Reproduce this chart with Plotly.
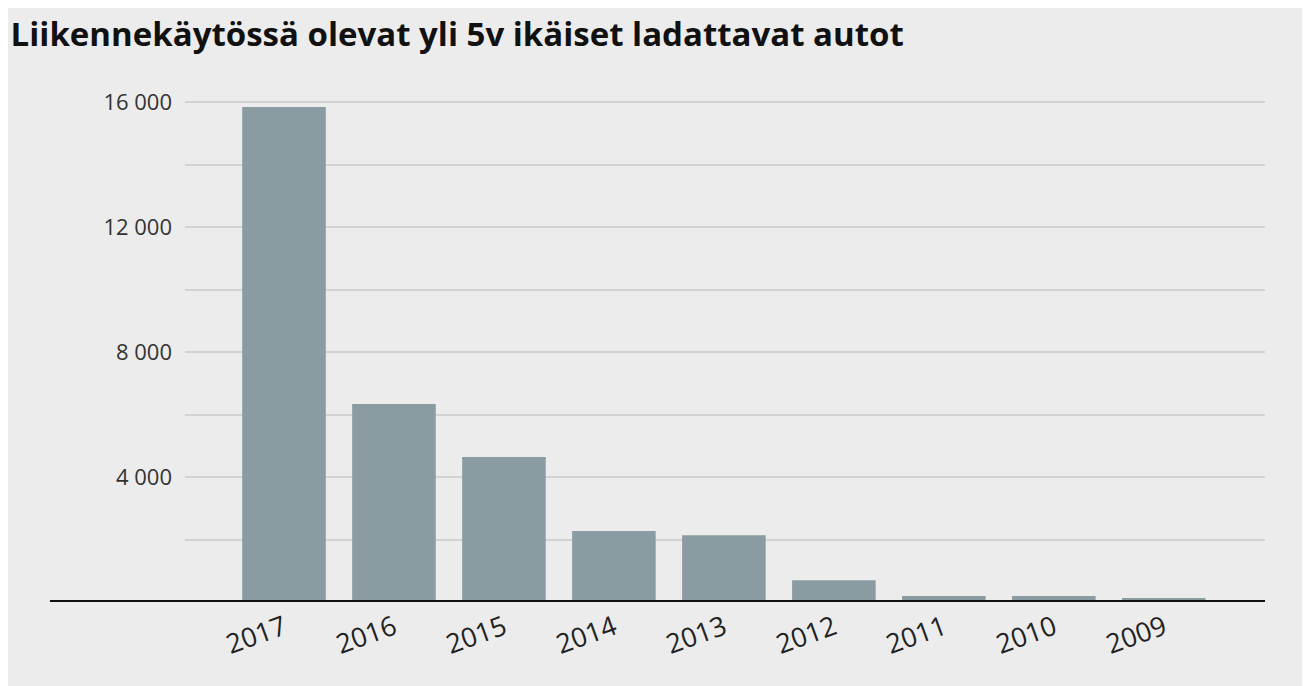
import plotly.graph_objects as go

years = ["2017", "2016", "2015", "2014", "2013", "2012", "2011", "2010", "2009"]
cars = [15840, 6340, 4640, 2270, 2140, 700, 190, 190, 130]
y_ticks = [4000, 8000, 12000, 16000]
y_labels = ["4 000", "8 000", "12 000", "16 000"]

fig = go.Figure(go.Bar(x=list(range(len(years))), y=cars, width=0.76,
                       marker_color="#8a9ca2", marker_line_width=0))

fig.update_layout(
    width=1310, height=686,
    margin=dict(l=177, r=53, t=87, b=92),
    paper_bgcolor="#ececec", plot_bgcolor="#ececec",
    font=dict(family="Open Sans", color="#333333", size=22),
    showlegend=False,
    title=dict(text="<b>Liikennekäytössä olevat yli 5v ikäiset ladattavat autot</b>",
               x=0.002, xanchor="left", y=0.962, yanchor="middle",
               font=dict(size=33, color="#111111")),
    shapes=[dict(type="line", xref="paper", yref="y", x0=-0.125, x1=1,
                 y0=0, y1=0, line=dict(color="#111111", width=4))],
)
fig.update_xaxes(range=[-0.9, 8.92], tickvals=list(range(len(years))),
                 ticktext=years, tickangle=-20, showgrid=False, zeroline=False,
                 ticklabelstandoff=4, tickfont=dict(size=27, color="#222222"))
fig.update_yaxes(range=[0, 16224], tickvals=y_ticks, ticktext=y_labels,
                 showgrid=True, gridcolor="#d2d2d2", gridwidth=1.5,
                 zeroline=False, ticklabelstandoff=12)
# minor gridlines between labelled ticks
fig.update_yaxes(minor=dict(tickvals=[2000, 6000, 10000, 14000], showgrid=True,
                            gridcolor="#d2d2d2", gridwidth=1.5))

fig.write_html("out.html")
